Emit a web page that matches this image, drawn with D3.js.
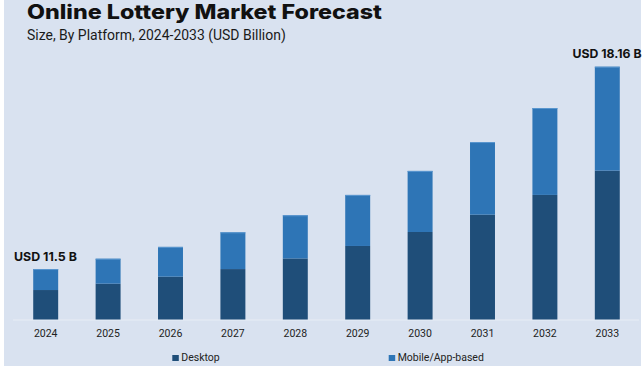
<!DOCTYPE html>
<html>
<head>
<meta charset="utf-8">
<script src="https://cdn.jsdelivr.net/npm/d3@7"></script>
<style>
  html, body { margin: 0; padding: 0; background: #ffffff; }
  svg { display: block; }
</style>
</head>
<body>
<svg id="chart" width="644" height="368"></svg>
<script>
// ---- data ----
const years = ["2024","2025","2026","2027","2028","2029","2030","2031","2032","2033"];
const desktop = [10.81, 11.02, 11.25, 11.50, 11.85, 12.26, 12.72, 13.29, 13.94, 14.74];
const mobile  = [0.69, 0.82, 0.98, 1.21, 1.42, 1.68, 2.01, 2.39, 2.86, 3.42];
const seriesNames = ["Desktop", "Mobile/App-based"];
const annotations = [{year: "2024", text: "USD 11.5 B"}, {year: "2033", text: "USD 18.16 B"}];
const titleText = "Online Lottery Market Forecast";
const subtitleText = "Size, By Platform, 2024-2033 (USD Billion)";
const axisMin = 9.84; // visual axis floor used by the original graphic

const colors = {bg: "#d9e2f0", desktop: "#1f4e79", mobile: "#2e75b6", base: "#e8edf5", text: "#1a1a1a"};

const svg = d3.select("#chart");

svg.append("rect").attr("x", 4).attr("y", 0).attr("width", 637).attr("height", 366).attr("fill", colors.bg);

const baseY = 319.5;
const x = d3.scaleBand().domain(years).range([14.5, 638.5]).paddingInner(0.6).paddingOuter(0.3);
const y = d3.scaleLinear().domain([axisMin, 18.16]).range([baseY, 66.7]).clamp(true);

const rows = years.map((yr, i) => ({year: yr, Desktop: desktop[i], "Mobile/App-based": mobile[i]}));
const stack = d3.stack().keys(seriesNames)(rows);
const fills = [colors.desktop, colors.mobile];

// baseline
svg.append("line").attr("x1", 13).attr("x2", 639).attr("y1", baseY + 0.5).attr("y2", baseY + 0.5)
  .attr("stroke", colors.base).attr("stroke-width", 1);

stack.forEach((layer, li) => {
  svg.append("g").selectAll("rect").data(layer).join("rect")
    .attr("x", d => x(d.data.year))
    .attr("width", x.bandwidth())
    .attr("y", d => y(d[1]))
    .attr("height", d => y(d[0]) - y(d[1]))
    .attr("fill", fills[li]);
});
// light top edge on bars
svg.append("g").selectAll("line").data(stack[1]).join("line")
  .attr("x1", d => x(d.data.year)).attr("x2", d => x(d.data.year) + x.bandwidth())
  .attr("y1", d => y(d[1]) + 0.5).attr("y2", d => y(d[1]) + 0.5)
  .attr("stroke", "#5b97cf").attr("stroke-width", 1);

// x axis
const xAxis = d3.axisBottom(x).tickSize(0).tickPadding(0);
const gx = svg.append("g").attr("transform", `translate(0,${baseY})`).call(xAxis);
gx.select(".domain").remove();
gx.selectAll("text").attr("dy", null).attr("y", 17.5)
  .attr("font-family", "Roboto, 'Noto Sans', sans-serif").attr("font-size", 10.5).attr("fill", "#222");

function fitText(sel, width) {
  const w = sel.node().getComputedTextLength();
  const fs = parseFloat(sel.attr("font-size"));
  sel.attr("font-size", fs * width / w);
}

// title
svg.append("text").attr("x", 27).attr("y", 18.8).text(titleText)
  .attr("font-family", "Inter, 'DejaVu Sans', sans-serif").attr("font-weight", 800)
  .attr("font-size", 20).attr("fill", "#111")
  .attr("textLength", 355).attr("lengthAdjust", "spacingAndGlyphs");
const st = svg.append("text").attr("x", 27).attr("y", 39.5).text(subtitleText)
  .attr("font-family", "Roboto, 'Noto Sans', sans-serif").attr("font-size", 14).attr("fill", "#1a1a1a");
fitText(st, 259);

// annotations
const total = years.map((yr, i) => desktop[i] + mobile[i]);
const a1 = svg.append("text").attr("x", 14).attr("y", y(total[0]) - 8.3).text(annotations[0].text)
  .attr("font-family", "Inter, 'Open Sans', sans-serif").attr("font-weight", 700)
  .attr("font-size", 12).attr("fill", "#111");
fitText(a1, 63);
const a2 = svg.append("text").attr("x", 641.5).attr("y", y(total[9]) - 8.4).attr("text-anchor", "end").text(annotations[1].text)
  .attr("font-family", "Inter, 'Open Sans', sans-serif").attr("font-weight", 700)
  .attr("font-size", 12).attr("fill", "#111");
fitText(a2, 69);

// legend
const legendX = [172.3, 388.7];
seriesNames.forEach((name, i) => {
  svg.append("rect").attr("x", legendX[i]).attr("y", 355).attr("width", 6.5).attr("height", 6).attr("fill", fills[i]);
  svg.append("text").attr("x", legendX[i] + 9).attr("y", 361).text(name)
    .attr("font-family", "Roboto, 'Noto Sans', sans-serif").attr("font-size", 10.5).attr("fill", "#222");
});
</script>
</body>
</html>
